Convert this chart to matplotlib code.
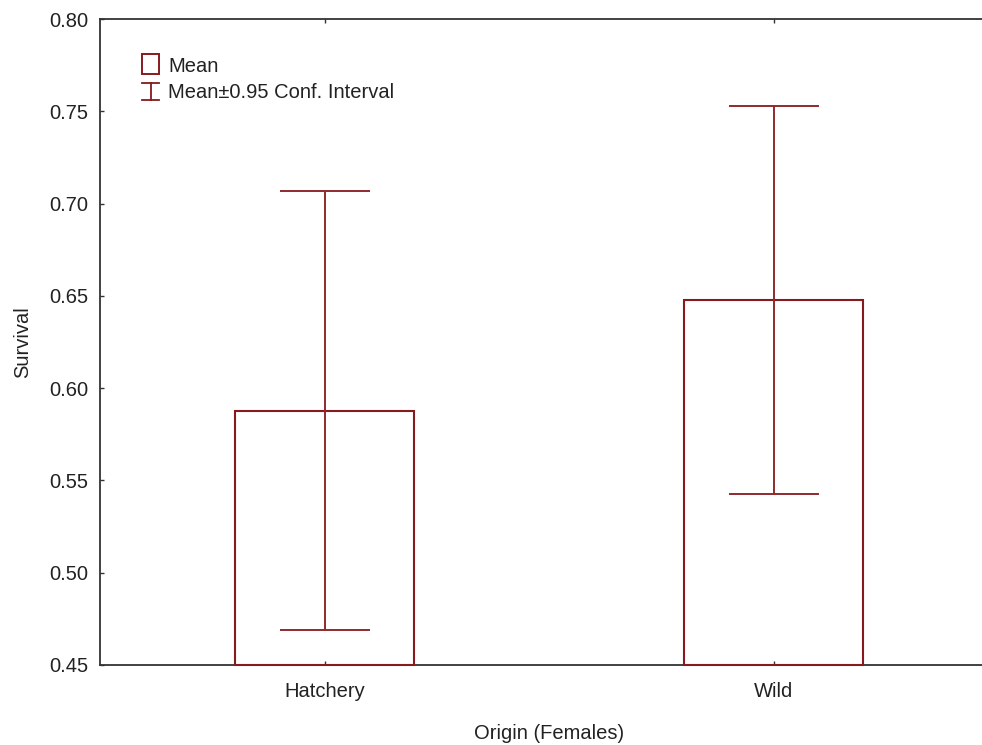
import matplotlib.pyplot as plt
from matplotlib.patches import Rectangle
from matplotlib.lines import Line2D
import numpy as np

plt.rcParams['font.family'] = ['Liberation Sans', 'DejaVu Sans']

categories = ['Hatchery', 'Wild']
means = [0.5876, 0.6478]
ci_low = [0.4690, 0.5426]
ci_high = [0.7068, 0.7529]
yticks = [0.45, 0.50, 0.55, 0.60, 0.65, 0.70, 0.75, 0.80]

RED = '#861a1e'
GREY = '#333333'
TXT = '#222222'
FS = 14.5

fig = plt.figure(figsize=(9.82, 7.45), dpi=100)
ax = fig.add_axes([100 / 982, 80 / 745, 898 / 982, 646 / 745])

x = np.arange(len(categories))
means = np.array(means)
lo = means - np.array(ci_low)
hi = np.array(ci_high) - means
ymin = yticks[0]

ax.bar(x, means - ymin, bottom=ymin, width=0.397, facecolor='none',
       edgecolor=RED, linewidth=1.5, zorder=5, clip_on=False)
ax.errorbar(x, means, yerr=[lo, hi], fmt='none', ecolor='#8e2a2e', elinewidth=1.4,
            capsize=32.4, capthick=1.4, zorder=6)

ax.set_xlim(-0.5, 1.5)
ax.set_ylim(yticks[0], yticks[-1])
ax.set_yticks(yticks)
ax.set_yticklabels([f'{v:.2f}' for v in yticks])
ax.set_xticks(x)
ax.set_xticklabels(categories)

for s in ['left', 'top', 'bottom']:
    ax.spines[s].set_color(GREY)
    ax.spines[s].set_linewidth(1.3)
ax.spines['right'].set_visible(False)

ax.tick_params(axis='y', direction='in', length=3, width=1, colors=GREY,
               labelcolor=TXT, labelsize=FS, pad=8.5, right=False)
ax.tick_params(axis='x', direction='in', length=3, width=1, colors=GREY,
               labelcolor=TXT, labelsize=FS, pad=12, top=True)

ax.set_xlabel('Origin (Females)', fontsize=FS, color=TXT, labelpad=17)
ax.set_ylabel('Survival', fontsize=FS, color=TXT, labelpad=12)

# legend drawn by hand in figure pixels
px = lambda v: v / 982
py = lambda v: (745 - v) / 745
fig.patches.append(Rectangle((px(142), py(74)), px(159) - px(142), py(54) - py(74),
                             transform=fig.transFigure, facecolor='none',
                             edgecolor=RED, linewidth=1.4))
for xs, ys in [([px(150.5), px(150.5)], [py(83), py(100)]),
               ([px(142), px(159)], [py(83), py(83)]),
               ([px(142), px(159)], [py(100), py(100)])]:
    fig.lines.append(Line2D(xs, ys, transform=fig.transFigure, color=RED, linewidth=1.3))
fig.text(px(168), py(67), 'Mean', fontsize=FS, color=TXT, va='center', ha='left')
fig.text(px(168), py(93), 'Mean\u00b10.95 Conf. Interval', fontsize=FS, color=TXT,
         va='center', ha='left')

fig.savefig('out.png', dpi=100)
